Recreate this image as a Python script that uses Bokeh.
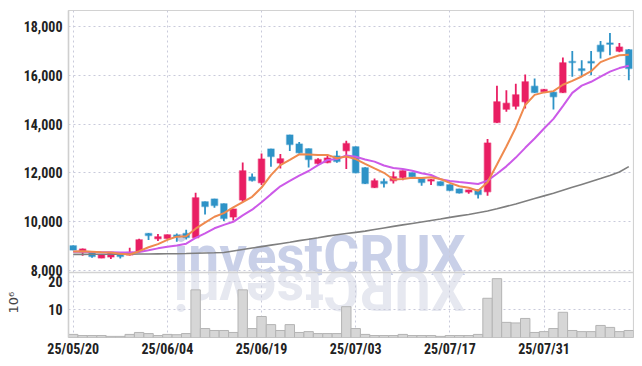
import numpy as np
import pandas as pd
from bokeh.plotting import figure
from bokeh.models import (ColumnDataSource, FixedTicker, Range1d, Span, Title)
from bokeh.core.properties import value
from bokeh.embed import file_html
from bokeh.resources import INLINE

dates = ["25/05/20", "25/05/21", "25/05/22", "25/05/23", "25/05/26", "25/05/27", "25/05/28", "25/05/29",
         "25/05/30", "25/06/02", "25/06/04", "25/06/05", "25/06/09", "25/06/10", "25/06/11", "25/06/12",
         "25/06/13", "25/06/16", "25/06/17", "25/06/18", "25/06/19", "25/06/20", "25/06/23", "25/06/24",
         "25/06/25", "25/06/26", "25/06/27", "25/06/30", "25/07/01", "25/07/02", "25/07/03", "25/07/04",
         "25/07/07", "25/07/08", "25/07/09", "25/07/10", "25/07/11", "25/07/14", "25/07/15", "25/07/16",
         "25/07/17", "25/07/18", "25/07/21", "25/07/22", "25/07/23", "25/07/24", "25/07/25", "25/07/28",
         "25/07/29", "25/07/30", "25/07/31", "25/08/01", "25/08/04", "25/08/05", "25/08/06", "25/08/07",
         "25/08/08", "25/08/11", "25/08/12", "25/08/13"]

open_ = [9016, 8758, 8742, 8512, 8553, 8717, 8635, 8799, 9521, 9303, 9316, 9454, 9521, 9344, 10820,
         10930, 10738, 10193, 10889, 11831, 11598, 12979, 12405, 13553, 13184, 12992, 12389, 12430, 12692,
         12910, 13074, 12213, 11405, 11652, 11680, 11815, 12008, 11775, 11668, 11639, 11516, 11339, 11216,
         11311, 11229, 14071, 14618, 14741, 14918, 15561, 15327, 15314, 15299, 16571, 16270, 16571, 17241,
         17335, 16995, 17050]
close = [8840, 8881, 8578, 8635, 8742, 8578, 8742, 9262, 9439, 9385, 9467, 9385, 9357, 10983, 10627,
         10668, 10137, 10519, 12090, 11693, 12569, 12677, 12582, 13168, 12828, 12553, 12553, 12610, 12471,
         13209, 12008, 11570, 11680, 11570, 11844, 12090, 11844, 11610, 11735, 11488, 11283, 11175, 11298,
         11120, 13225, 14918, 14864, 15204, 15737, 15299, 15422, 15122, 16516, 16530, 16200, 16506, 16980,
         17282, 17172, 16283]
high = [9030, 8906, 8760, 8650, 8760, 8730, 8934, 9303, 9540, 9496, 9480, 9521, 9672, 11188, 10830,
        10940, 10750, 10530, 12430, 11980, 12800, 12990, 12774, 13570, 13266, 13000, 12600, 12750, 12910,
        13319, 13090, 12230, 11775, 11775, 12061, 12100, 12020, 11790, 11750, 11650, 11530, 11350, 11310,
        11330, 13389, 15573, 15397, 15655, 16036, 15873, 15440, 15330, 16733, 17008, 16626, 17000, 17417,
        17745, 17335, 17090]
low = [8830, 8607, 8525, 8500, 8471, 8496, 8620, 8790, 9250, 9209, 9300, 9180, 9275, 9330, 10300,
       10574, 10028, 10055, 10800, 11650, 11503, 12254, 12184, 12897, 12800, 12225, 12350, 12400, 12420,
       12160, 11990, 11550, 11380, 11405, 11570, 11700, 11830, 11475, 11503, 11470, 11270, 11160, 11150,
       10956, 11065, 14050, 14508, 14600, 14643, 15280, 15300, 14602, 15280, 15942, 15942, 16011, 16692,
       16831, 16950, 15807]
# volume, millions of shares
volume = [1.1, 0.7, 0.7, 0.7, 0.4, 0.4, 1.1, 1.8, 1.4, 0.7, 1.1, 1.0, 1.4, 17.0, 3.2, 2.5, 2.5, 1.8,
          17.0, 3.2, 7.5, 4.6, 2.5, 4.6, 1.8, 2.1, 1.4, 1.4, 1.4, 11.0, 3.2, 1.1, 0.7, 0.7, 0.7, 1.1,
          0.7, 0.7, 0.7, 0.4, 0.7, 0.7, 0.7, 1.1, 14.0, 21.0, 5.4, 5.2, 6.8, 1.8, 2.1, 3.2, 9.0, 2.5,
          2.1, 2.1, 4.3, 3.6, 2.1, 2.5]
# moving-average values before enough closes are visible
ma5_head = [8780, 8790, 8770, 8750]
ma10_head = [8770, 8770, 8760, 8750, 8745, 8740, 8740, 8760, 8830]
# long moving average (grey line)
ma60 = [8660, 8662, 8664, 8666, 8668, 8670, 8672, 8675, 8678, 8682, 8686, 8690, 8695, 8705, 8715,
        8725, 8740, 8800, 8860, 8920, 8980, 9040, 9100, 9160, 9225, 9285, 9345, 9410, 9465, 9515,
        9565, 9615, 9680, 9745, 9810, 9870, 9930, 9990, 10050, 10110, 10180, 10240, 10300, 10370, 10440,
        10530, 10630, 10730, 10840, 10950, 11060, 11170, 11290, 11410, 11530, 11650, 11770, 11900, 12040, 12260]
tick_idx = [0, 10, 20, 30, 40, 50]
price_ticks = [8000, 10000, 12000, 14000, 16000, 18000]
vol_ticks = [10, 20]
vol_unit = "10⁶"
watermark = "investCRUX"

UP = "#e91e63"
DOWN = "#2e93c7"
GRID = "#c9cadb"
FONT = "'Liberation Sans Narrow', 'Roboto Condensed', Roboto"

# layout of the two stacked panels (pixels)
PRICE_PX, VOL_PX = 262, 65
PRICE_TOP, PRICE_BOTTOM = 18664, 7918
VOL_TOP = 23.2
upp = (PRICE_TOP - PRICE_BOTTOM) / PRICE_PX
Y0 = PRICE_BOTTOM - VOL_PX * upp
vol_end = VOL_TOP * (PRICE_PX + VOL_PX) / VOL_PX

def vol_to_y(v):
    return int(round(Y0 + v * (PRICE_BOTTOM - Y0) / VOL_TOP))

n = len(close)
idx = list(range(n))
cs = pd.Series(close, dtype=float)
ma5 = list(ma5_head) + list(cs.rolling(5).mean()[4:])
ma10 = list(ma10_head) + list(cs.rolling(10).mean()[9:])

colors = [UP if c >= o else DOWN for o, c in zip(open_, close)]
src = ColumnDataSource(dict(x=idx, o=open_, c=close, h=high, l=low,
                            top=[max(a, b) for a, b in zip(open_, close)],
                            bot=[min(a, b) for a, b in zip(open_, close)],
                            color=colors, vol=volume, ma5=ma5, ma10=ma10, ma60=ma60))

p = figure(width=634, height=360, x_range=Range1d(-0.5, n - 0.5), y_range=Range1d(Y0, PRICE_TOP),
           output_backend="svg", toolbar_location=None,
           min_border_left=68, min_border_right=1, min_border_top=10, min_border_bottom=23)
p.extra_y_ranges = {"vol": Range1d(0, vol_end)}

p.outline_line_color = "#d2d2d2"
p.outline_line_width = 1.2
p.background_fill_color = "white"
p.border_fill_color = "white"

# y axis: price ticks on the top panel, volume ticks on the bottom panel
yt = {t: f"{t:,}" for t in price_ticks}
yt.update({vol_to_y(v): str(v) for v in vol_ticks})
p.yaxis.ticker = FixedTicker(ticks=sorted(yt.keys()))
p.yaxis.major_label_overrides = yt
p.yaxis.axis_line_color = "#cfcfcf"
p.yaxis.axis_line_width = 1.5
p.yaxis.major_tick_line_color = None
p.yaxis.minor_tick_line_color = None
p.yaxis.major_tick_out = 0
p.yaxis.minor_tick_out = 0
p.yaxis.major_label_text_font = FONT
p.yaxis.major_label_text_font_style = "bold"
p.yaxis.major_label_text_font_size = "14px"
p.yaxis.major_label_text_color = "#222222"
p.yaxis.major_label_standoff = 6
p.ygrid.grid_line_color = GRID
p.ygrid.grid_line_dash = "2 3"

p.xaxis.ticker = FixedTicker(ticks=tick_idx)
p.xaxis.major_label_overrides = {i: dates[i] for i in tick_idx}
p.xaxis.axis_line_color = None
p.xaxis.major_tick_line_color = None
p.xaxis.minor_tick_line_color = None
p.xaxis.major_tick_out = 0
p.xaxis.minor_tick_out = 0
p.xaxis.major_label_text_font = FONT
p.xaxis.major_label_text_font_style = "bold"
p.xaxis.major_label_text_font_size = "14px"
p.xaxis.major_label_text_color = "#222222"
p.xaxis.major_label_standoff = 3
p.xgrid.grid_line_color = GRID
p.xgrid.grid_line_dash = "2 3"

# panel separator
p.add_layout(Span(location=PRICE_BOTTOM, dimension="width", line_color="#d2d2d2", line_width=1.5))

# volume unit label, beside the volume panel
p.add_layout(Title(text=vol_unit, align="left", offset=24, standoff=0, text_font="DejaVu Sans",
                   text_font_style="normal", text_font_size="13px", text_color="#444444"), "left")

# watermark and its reflection (centred, mirrored about the panel separator)
wm_x = (n - 1) * 0.4436
off = 17 * upp
wm = p.text(x=[wm_x], y=[PRICE_BOTTOM + off], text=[watermark], text_font=value("Roboto"),
            text_font_style="bold", text_font_size="55px", text_color="#c9d0e8",
            text_align="center", text_baseline="middle")
wm.level = "underlay"
wr = p.text(x=[wm_x], y=[PRICE_BOTTOM - off], text=[watermark[::-1]], angle=np.pi,
            text_font=value("Roboto"), text_font_style="bold", text_font_size="55px",
            text_color="#e6e8f0", text_align="center", text_baseline="middle")
wr.level = "underlay"

# volume
p.vbar(x="x", top="vol", width=1.0, source=src, fill_color="#d6d6d6", line_color="#b4b4b4",
       line_width=1, y_range_name="vol")

# candles
p.segment(x0="x", y0="h", x1="x", y1="l", source=src, line_color="color", line_width=1.8)
p.vbar(x="x", top="top", bottom="bot", width=0.68, source=src, fill_color="color",
       line_color="color", line_alpha=0.45, line_width=1.5)

p.line("x", "ma60", source=src, line_color="#7f7f7f", line_width=1.6)
p.line("x", "ma10", source=src, line_color="#cc5ae8", line_width=2.0)
p.line("x", "ma5", source=src, line_color="#ef8a4e", line_width=2.0)

open("out.html", "w").write(file_html(p, INLINE))
